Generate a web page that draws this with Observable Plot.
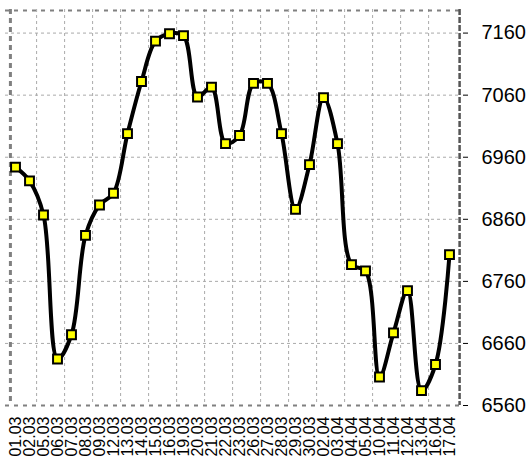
<!DOCTYPE html>
<html>
<head>
<meta charset="utf-8">
<script src="https://cdn.jsdelivr.net/npm/d3@7"></script>
<script src="https://cdn.jsdelivr.net/npm/@observablehq/plot@0.6"></script>
<style>
  html, body { margin: 0; padding: 0; background: #fff; }
</style>
</head>
<body>
<div id="chart"></div>
<script>
const dates = ["01.03","02.03","05.03","06.03","07.03","08.03","09.03","12.03","13.03","14.03","15.03","16.03","19.03","20.03","21.03","22.03","23.03","26.03","27.03","28.03","29.03","30.03","02.04","03.04","04.04","05.04","10.04","11.04","12.04","13.04","16.04","17.04"];
const values = [6944,6922,6867,6635,6674,6834,6883,6902,6998,7082,7147,7159,7156,7057,7073,6982,6995,7079,7079,6998,6876,6948,7056,6982,6787,6777,6606,6677,6745,6584,6626,6803];
const yTicks = [6560,6660,6760,6860,6960,7060,7160];

const data = dates.map((d, i) => ({date: d, value: values[i]}));

const W = 527, H = 461, mL = 5, mR = 68, mT = 9, mB = 56;
const step = (W - mL - mR) / dates.length;
const gridDates = dates.filter((d, i) => i % 2 === 1 && i < dates.length - 1);

const chart = Plot.plot({
  width: W, height: H,
  marginLeft: mL, marginRight: mR, marginTop: mT, marginBottom: mB,
  style: {fontFamily: "Liberation Sans, Arial, sans-serif", background: "#fff", color: "#000"},
  x: {type: "point", domain: dates, padding: 0.5},
  y: {domain: [6560, 7198]},
  marks: [
    Plot.ruleY(yTicks.slice(1), {stroke: "#aaa", strokeWidth: 1, strokeDasharray: "3,3"}),
    Plot.ruleX(gridDates, {dx: step / 2, stroke: "#aaa", strokeWidth: 1, strokeDasharray: "3,3"}),
    Plot.ruleY([6560], {stroke: "#808080", strokeWidth: 2, strokeDasharray: "4,5"}),
    Plot.ruleY([7198], {stroke: "#808080", strokeWidth: 2, strokeDasharray: "4,5", dy: 1}),
    Plot.ruleX([dates[0]], {dx: -step / 2 + 2, stroke: "#808080", strokeWidth: 3, strokeDasharray: "5,4"}),
    Plot.ruleX([dates[dates.length - 1]], {dx: step / 2 + 3, stroke: "#555", strokeWidth: 2.5, strokeDasharray: "6,2"}),
    Plot.axisY({anchor: "right", ticks: yTicks, tickFormat: d => String(d), tickSize: 5, tickPadding: 14, fontSize: 20, label: null, dx: 3}),
    Plot.axisX({anchor: "bottom", tickRotate: -90, tickSize: 0, tickPadding: 11, fontSize: 16, label: null}),
    Plot.line(data, {x: "date", y: "value", curve: "catmull-rom", stroke: "#000", strokeWidth: 4}),
    Plot.dot(data, {x: "date", y: "value", symbol: "square", r: 5, fill: "#ffff00", stroke: "#000", strokeWidth: 2})
  ]
});
document.getElementById("chart").appendChild(chart);
</script>
</body>
</html>
